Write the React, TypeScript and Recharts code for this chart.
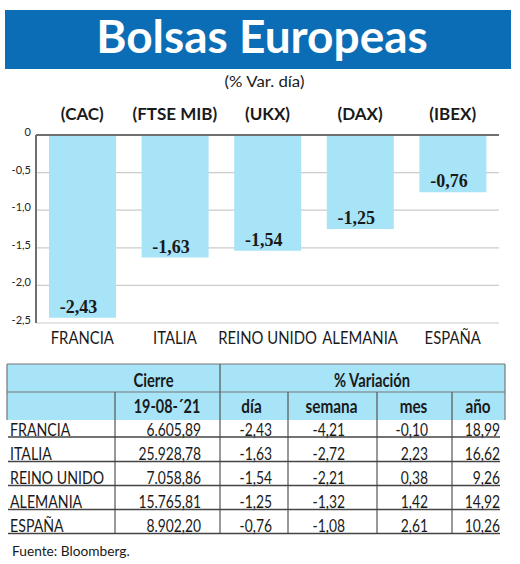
import React from "react";
import { BarChart, Bar, XAxis, YAxis, CartesianGrid, ReferenceLine, LabelList } from "recharts";

const paises = ["FRANCIA", "ITALIA", "REINO UNIDO", "ALEMANIA", "ESPAÑA"];
const tickers = ["(CAC)", "(FTSE MIB)", "(UKX)", "(DAX)", "(IBEX)"];
const varDia = [-2.43, -1.63, -1.54, -1.25, -0.76];
const yTicks = [0, -0.5, -1, -1.5, -2, -2.5];
const cierre = ["6.605,89", "25.928,78", "7.058,86", "15.765,81", "8.902,20"];
const varSemana = [-4.21, -2.72, -2.21, -1.32, -1.08];
const varMes = [-0.1, 2.23, 0.38, 1.42, 2.61];
const varAno = [18.99, 16.62, 9.26, 14.92, 10.26];

const data = paises.map((p, i) => ({ pais: p, ticker: tickers[i], dia: varDia[i] }));

const fmt2 = (v: number) => v.toFixed(2).replace(".", ",");
const fmtTick = (v: number) => (v === 0 ? "0" : v.toFixed(1).replace(".", ","));

const BLUE = "#0b6db5";
const LIGHT = "#a7e4f7";
const FONT = "Lato, 'DejaVu Sans', sans-serif";

const CT = ({ x, y, s = 1, anchor = "start", size = 16, weight = 400, children, fill = "#1a1a1a", family = FONT }: any) => (
  <g transform={`translate(${x},${y}) scale(${s},1)`}>
    <text x={0} y={0} textAnchor={anchor} fontSize={size} fontWeight={weight} fill={fill} fontFamily={family}>
      {children}
    </text>
  </g>
);

const TopTick = (props: any) => {
  const { x, payload } = props;
  return <CT x={x} y={120} anchor="middle" size={17} weight={700}>{payload.value}</CT>;
};

const BottomTick = (props: any) => {
  const { x, payload } = props;
  return <CT x={x} y={344} anchor="middle" size={16.5} s={0.9}>{payload.value}</CT>;
};

const YTick = (props: any) => {
  const { y, payload } = props;
  return <CT x={31} y={y + 1} anchor="end" size={12} s={0.92} fill="#222">{fmtTick(payload.value)}</CT>;
};

const ValueLabel = (props: any) => {
  const { x, y, width, height, value } = props;
  const bottom = Math.max(y, y + height);
  return (
    <text
      x={x + width / 2 - 4}
      y={bottom - 5}
      textAnchor="middle"
      fontSize={18}
      fontWeight={700}
      fill="#1a1a1a"
      fontFamily="'Liberation Serif', 'DejaVu Serif', serif"
    >
      {fmt2(value)}
    </text>
  );
};

const rowLines = [437, 461.5, 485.5, 509.5, 533.5];
const colEnds = [201, 272, 345, 428, 500];

export default function App() {
  return (
    <div style={{ position: "relative", width: 520, height: 564, background: "#fff", overflow: "hidden" }}>
      <style>{`body{margin:0}`}</style>
      <svg width={520} height={564} style={{ position: "absolute", left: 0, top: 0 }}>
        <rect x={5} y={10} width={506} height={59} fill={BLUE} />
        <text x={262} y={53} textAnchor="middle" fontSize={46} fontWeight={700} fill="#fff" fontFamily={FONT}>
          Bolsas Europeas
        </text>
        <CT x={264.5} y={87} anchor="middle" size={16} s={1.05}>(% Var. día)</CT>

        {/* table header */}
        <rect x={7} y={364} width={498} height={56} fill={LIGHT} />
        <line x1={7} y1={364} x2={505} y2={364} stroke="#777" strokeWidth={1.2} />
        <line x1={7} y1={364} x2={7} y2={420} stroke="#777" strokeWidth={1.2} />
        <line x1={505} y1={364} x2={505} y2={420} stroke="#777" strokeWidth={1.2} />
        <line x1={7} y1={392} x2={505} y2={392} stroke="#777" strokeWidth={1.2} />
        <line x1={220} y1={364} x2={220} y2={533} stroke="#555" strokeWidth={1.2} />
        {[115, 288, 377, 452].map((cx) => (
          <line key={cx} x1={cx} y1={392} x2={cx} y2={533} stroke="#555" strokeWidth={1.2} />
        ))}
        <CT x={153.5} y={386.5} anchor="middle" size={18} weight={700} s={0.82}>Cierre</CT>
        <CT x={372} y={386.5} anchor="middle" size={18} weight={700} s={0.82}>% Variación</CT>
        <CT x={167} y={413} anchor="middle" size={18} weight={700} s={0.8}>19-08-´21</CT>
        <CT x={251.5} y={413} anchor="middle" size={18} weight={700} s={0.85}>día</CT>
        <CT x={331.5} y={413} anchor="middle" size={18} weight={700} s={0.85}>semana</CT>
        <CT x={413.5} y={413} anchor="middle" size={18} weight={700} s={0.85}>mes</CT>
        <CT x={478} y={413} anchor="middle" size={18} weight={700} s={0.85}>año</CT>

        {paises.map((p, i) => {
          const base = rowLines[i] - 1.5;
          const vals = [cierre[i], fmt2(varDia[i]), fmt2(varSemana[i]), fmt2(varMes[i]), fmt2(varAno[i])];
          return (
            <g key={p}>
              <line x1={8} y1={rowLines[i]} x2={500} y2={rowLines[i]} stroke="#444" strokeWidth={1.5} />
              <CT x={10} y={base} size={16.5} s={0.86}>{p}</CT>
              {vals.map((v, j) => (
                <CT key={j} x={colEnds[j]} y={base} anchor="end" size={16.5} s={0.84}>{v}</CT>
              ))}
            </g>
          );
        })}
        <CT x={12} y={556} size={14} s={0.98}>Fuente: Bloomberg.</CT>
      </svg>
      <div style={{ position: "absolute", left: 0, top: 0 }}>
        <BarChart width={520} height={360} data={data} margin={{ top: 105, right: 21, left: 0, bottom: 0 }}>
          <CartesianGrid xAxisId="bottom" vertical={false} stroke="#cccccc" strokeWidth={1.2} />
          <XAxis xAxisId="top" orientation="top" dataKey="ticker" height={30} axisLine={false} tickLine={false} tick={<TopTick />} interval={0} />
          <XAxis xAxisId="bottom" dataKey="pais" height={37} axisLine={false} tickLine={false} tick={<BottomTick />} interval={0} />
          <YAxis
            domain={[-2.5, 0]}
            ticks={yTicks}
            width={36}
            axisLine={{ stroke: "#707070", strokeWidth: 2 }}
            tickLine={false}
            tick={<YTick />}
            interval={0}
          />
          <Bar xAxisId="bottom" dataKey="dia" fill={LIGHT} barSize={67} isAnimationActive={false}>
            <LabelList dataKey="dia" content={<ValueLabel />} />
          </Bar>
          <ReferenceLine xAxisId="bottom" y={0} stroke="#707070" strokeWidth={2} />
        </BarChart>
      </div>
    </div>
  );
}
